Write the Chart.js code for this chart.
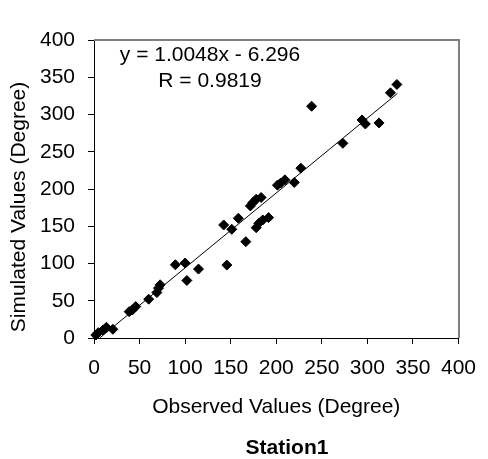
<!DOCTYPE html>
<html>
<head>
<meta charset="utf-8">
<script src="https://cdn.jsdelivr.net/npm/chart.js@4.4.1/dist/chart.umd.min.js"></script>
<style>
  html, body { margin: 0; padding: 0; background: #ffffff; }
  #wrap { width: 488px; height: 459px; position: relative; }
</style>
</head>
<body>
<div id="wrap"><canvas id="c"></canvas></div>
<script>
// ---- data ----
const observed = [2, 4.6, 10, 13.6, 20.7, 38.6, 42.1, 45.8, 60, 69, 70.8, 72.6, 89.3, 100, 101.9, 114.7,
  142.3, 145.8, 151.2, 158.4, 166.6, 171.6, 174.4, 178, 183.4, 178, 180.9, 185.2, 191.6,
  201.3, 204.8, 209.5, 219.8, 227, 238.8, 273.1, 294.2, 297.8, 312.8, 325.3, 332.4];
const simulated = [4, 7.1, 10.8, 14.4, 11.7, 35.4, 37.7, 42.2, 52.1, 61, 67, 71.4, 98.3, 100.6, 77.2, 92.5,
  151.7, 97.9, 145.9, 160.7, 129.3, 177.3, 181.8, 186.3, 188.6, 148.1, 154, 158.5, 161.6,
  205.2, 207.9, 212.3, 208.8, 228, 311.1, 261.3, 292.7, 287.3, 288.7, 329.1, 340.3];
const trendSlope = 1.0048;
const trendIntercept = -6.296;
const trendX = [6.27, 333];
const axisTicks = [0, 50, 100, 150, 200, 250, 300, 350, 400];
const equationText = 'y = 1.0048x - 6.296';
const rText = 'R = 0.9819';
const xTitle = 'Observed Values (Degree)';
const yTitle = 'Simulated Values (Degree)';
const chartTitle = 'Station1';

const FONT = '"Liberation Sans", Arial, sans-serif';

const points = observed.map((x, i) => ({ x: x, y: simulated[i] }));
const trend = trendX.map(x => ({ x: x, y: trendSlope * x + trendIntercept }));

const decor = {
  id: 'decor',
  beforeDatasetsDraw(chart) {
    const { ctx, chartArea: a } = chart;
    ctx.save();
    ctx.strokeStyle = '#808080';
    ctx.lineWidth = 2;
    ctx.beginPath();
    ctx.moveTo(a.left, a.top);
    ctx.lineTo(a.right + 0.5, a.top);
    ctx.lineTo(a.right + 0.5, a.bottom);
    ctx.stroke();
    ctx.restore();
  },
  afterDraw(chart) {
    const { ctx, chartArea: a } = chart;
    ctx.save();
    ctx.fillStyle = '#000';
    ctx.font = '21px ' + FONT;
    ctx.textAlign = 'center';
    ctx.textBaseline = 'alphabetic';
    ctx.fillText(equationText, 210, 60.5);
    ctx.fillText(rText, 210, 86.5);
    ctx.fillText(xTitle, (a.left + a.right) / 2, 413);
    ctx.save();
    ctx.translate(25, 207);
    ctx.rotate(-Math.PI / 2);
    ctx.fillText(yTitle, 0, 0);
    ctx.restore();
    ctx.font = 'bold 21px ' + FONT;
    ctx.fillText(chartTitle, 287, 453.5);
    ctx.restore();
  }
};

function axis(extra) {
  return Object.assign({
    type: 'linear',
    min: 0,
    max: 400,
    afterBuildTicks: s => { s.ticks = axisTicks.map(v => ({ value: v })); },
    grid: { display: true, drawOnChartArea: false, drawTicks: true, tickLength: 6, color: '#000', lineWidth: 1 },
    border: { display: true, color: '#000', width: 1 },
  }, extra);
}

new Chart(document.getElementById('c'), {
  type: 'scatter',
  data: {
    datasets: [
      {
        type: 'line',
        data: trend,
        borderColor: '#000',
        borderWidth: 1,
        pointRadius: 0,
        fill: false,
        tension: 0,
        order: 2
      },
      {
        data: points,
        pointStyle: 'rectRot',
        pointRadius: 5,
        pointHoverRadius: 5,
        backgroundColor: '#000',
        borderColor: '#000',
        borderWidth: 1,
        clip: false,
        order: 1
      }
    ]
  },
  options: {
    responsive: true,
    maintainAspectRatio: false,
    animation: false,
    devicePixelRatio: 1,
    layout: { padding: { top: 40, right: 21, left: 0, bottom: 0 } },
    plugins: { legend: { display: false }, tooltip: { enabled: false }, title: { display: false } },
    scales: {
      x: axis({
        position: 'bottom',
        ticks: { color: '#000', font: { family: FONT, size: 21 }, padding: 12, maxRotation: 0, autoSkip: false },
        afterFit: s => { s.height = 121; }
      }),
      y: axis({
        position: 'left',
        ticks: { color: '#000', font: { family: FONT, size: 21 }, padding: 13, autoSkip: false },
        afterFit: s => { s.width = 94; }
      })
    }
  },
  plugins: [decor]
});
</script>
</body>
</html>
